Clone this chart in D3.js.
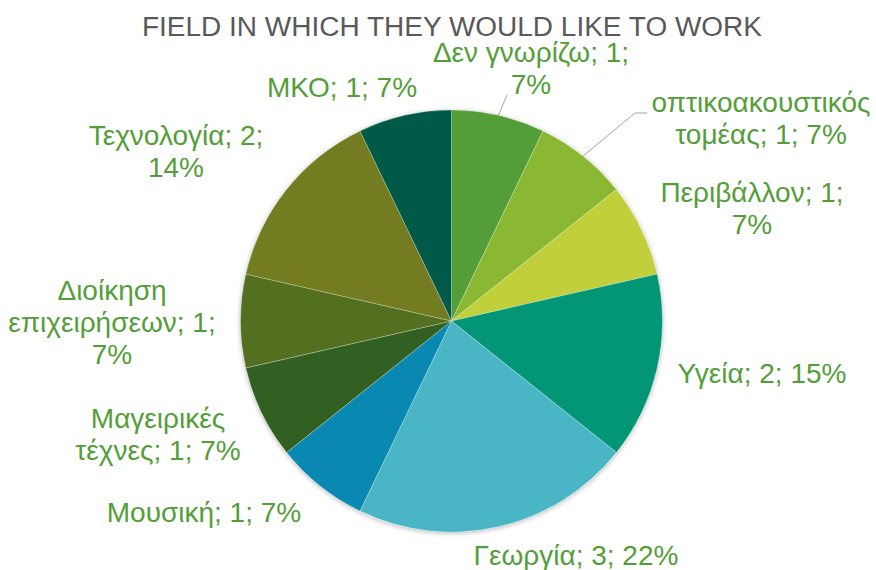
<!DOCTYPE html>
<html>
<head>
<meta charset="utf-8">
<script src="https://cdn.jsdelivr.net/npm/d3@7"></script>
<style>
  body { margin: 0; background: #fff; }
  svg { display: block; font-family: "Liberation Sans", Arial, sans-serif; }
</style>
</head>
<body>
<div id="chart"></div>
<script>
// data, clockwise from 12 o'clock
var categories = ["Δεν γνωρίζω", "οπτικοακουστικός τομέας", "Περιβάλλον", "Υγεία", "Γεωργία",
                  "Μουσική", "Μαγειρικές τέχνες", "Διοίκηση επιχειρήσεων", "Τεχνολογία", "ΜΚΟ"];
var counts = [1, 1, 1, 2, 3, 1, 1, 1, 2, 1];
var pctLabels = ["7%", "7%", "7%", "15%", "22%", "7%", "7%", "7%", "14%", "7%"];
var colors = ["#549E39", "#8AB833", "#C0CF3A", "#029676", "#4AB5C4",
              "#0989B1", "#325F22", "#536F1F", "#737C21", "#015A47"];

// layout of the data labels (centre x, first baseline y) and wrap width
var labelAnchor = [[531, 62], [761, 112], [752, 202], [762, 383], [576, 565],
                   [204, 522], [158, 428], [112, 300], [176, 145], [342, 97]];
var wrapWidth = [228, 238, 218, 280, 280, 280, 188, 232, 218, 280];

function chart(selector){

    var width = 876, height = 570,
        cx = 451.5, cy = 321, radius = 211,
        lineHeight = 32;

    d3.select(selector).html(null)

    var svg = d3.select(selector)
        .append("svg")
        .attr("width", width)
        .attr("height", height)

    var defs = svg.append("defs")
    var f = defs.append("filter").attr("id", "shadow")
        .attr("x", "-10%").attr("y", "-10%").attr("width", "120%").attr("height", "120%")
    f.append("feDropShadow")
        .attr("dx", 0).attr("dy", 1)
        .attr("stdDeviation", 2.5)
        .attr("flood-color", "#000")
        .attr("flood-opacity", 0.3)

    svg.append("text")
        .attr("x", 452)
        .attr("y", 36)
        .attr("text-anchor", "middle")
        .attr("fill", "#595959")
        .attr("font-size", 27)
        .attr("textLength", 620)
        .attr("lengthAdjust", "spacingAndGlyphs")
        .text("FIELD IN WHICH THEY WOULD LIKE TO WORK")

    var rows = categories.map(function(c, i){
        return {name: c, value: counts[i], pct: pctLabels[i], color: colors[i], i: i};
    })

    var pie = d3.pie().sort(null).value(function(d){ return d.value; })
    var arcs = pie(rows)

    var arc = d3.arc().innerRadius(0).outerRadius(radius)
    var edge = d3.arc().innerRadius(radius).outerRadius(radius)

    var g = svg.append("g").attr("transform", "translate(" + cx + "," + cy + ")")

    g.append("circle").attr("r", radius).attr("fill", "#fff").attr("filter", "url(#shadow)")

    g.selectAll(".slice")
        .data(arcs).enter().append("path")
        .attr("class", "slice")
        .attr("d", arc)
        .attr("fill", function(d){ return d.data.color; })
        .attr("stroke", "#fff")
        .attr("stroke-width", 0.5)
        .attr("stroke-opacity", 0.5)

    // leader lines for the two labels that sit away from their slice
    var leaders = {0: [[507, 95]], 1: [[635, 113], [647, 113]]}
    Object.keys(leaders).forEach(function(k){
        var a = arcs[+k];
        var p = edge.centroid(a);
        var pts = [[p[0] + cx, p[1] + cy]].concat(leaders[k]);
        svg.append("path")
            .attr("d", d3.line()(pts))
            .attr("fill", "none")
            .attr("stroke", "#A6A6A6")
            .attr("stroke-width", 1)
    })

    // labels, wrapped by word like Excel does
    arcs.forEach(function(a, i){
        var d = a.data;
        var words = (d.name + "; " + d.value + "; " + d.pct).split(" ");
        var t = svg.append("text")
            .attr("text-anchor", "middle")
            .attr("fill", "#549E39")
            .attr("font-size", 28)
        var lines = [], cur = [];
        var probe = t.append("tspan");
        words.forEach(function(w){
            var test = cur.concat([w]).join(" ");
            probe.text(test);
            if (cur.length && probe.node().getComputedTextLength() > wrapWidth[i]) {
                lines.push(cur.join(" "));
                cur = [w];
            } else {
                cur.push(w);
            }
        })
        lines.push(cur.join(" "));
        probe.remove();
        lines.forEach(function(l, j){
            t.append("tspan")
                .attr("x", labelAnchor[i][0])
                .attr("y", labelAnchor[i][1] + j * lineHeight)
                .text(l)
        })
    })
}

chart("#chart")
</script>
</body>
</html>
